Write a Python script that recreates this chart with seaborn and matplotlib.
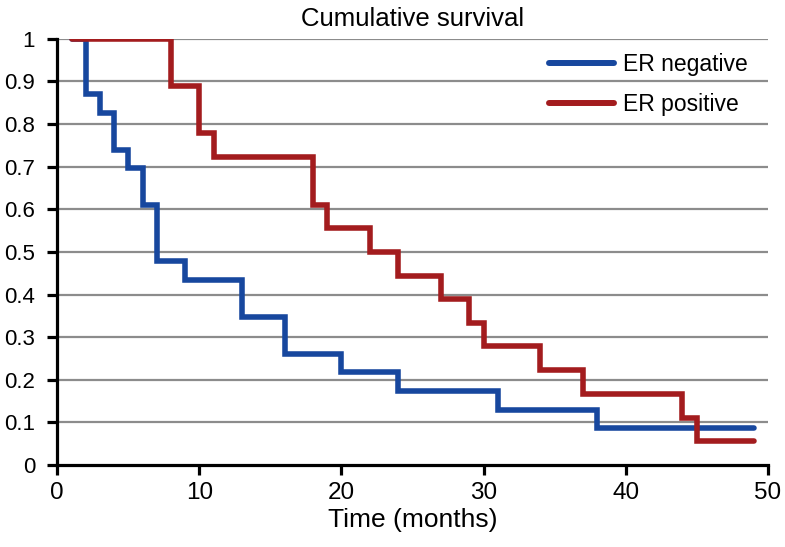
import pandas as pd
import matplotlib.pyplot as plt
import seaborn as sns

# Kaplan-Meier style survival data
neg_time = [1, 2, 3, 4, 5, 6, 7, 9, 13, 16, 20, 24, 31, 38, 49]
neg_surv = [1.0, 0.87, 0.826, 0.739, 0.696, 0.609, 0.478, 0.435, 0.348, 0.261, 0.217, 0.174, 0.13, 0.087, 0.087]

pos_time = [1, 8, 10, 11, 18, 19, 22, 24, 27, 29, 30, 34, 37, 44, 45, 49]
pos_surv = [1.0, 0.889, 0.778, 0.722, 0.611, 0.556, 0.5, 0.444, 0.389, 0.333, 0.278, 0.222, 0.167, 0.111, 0.056, 0.056]

groups = ['ER negative', 'ER positive']
colors = ['#17479e', '#a31c1e']

df = pd.concat([
    pd.DataFrame({'time': neg_time, 'surv': neg_surv, 'group': groups[0]}),
    pd.DataFrame({'time': pos_time, 'surv': pos_surv, 'group': groups[1]}),
])

sns.set_style('white')
plt.rcParams['font.family'] = ['Liberation Sans', 'DejaVu Sans']
plt.rcParams['text.color'] = 'black'
plt.rcParams['axes.labelcolor'] = 'black'
plt.rcParams['xtick.color'] = 'black'
plt.rcParams['ytick.color'] = 'black'

fig = plt.figure(figsize=(7.85, 5.47), dpi=100)
ax = fig.add_axes([0.073, 0.15, 0.905, 0.779])

# grid lines drawn at each 0.1 step
for yv in [i / 10 for i in range(1, 11)]:
    ax.axhline(yv, color='#8c8c8c', lw=1.6, zorder=1)

sns.lineplot(data=df, x='time', y='surv', hue='group', hue_order=groups,
             palette=colors, drawstyle='steps-post', estimator=None, sort=False,
             lw=4, solid_capstyle='round', solid_joinstyle='miter', ax=ax, zorder=3)

ax.set_xlim(0, 50)
ax.set_ylim(0, 1)
ax.set_xticks([0, 10, 20, 30, 40, 50])
ax.set_yticks([i / 10 for i in range(0, 11)])
ax.set_yticklabels(['0', '0.1', '0.2', '0.3', '0.4', '0.5', '0.6', '0.7', '0.8', '0.9', '1'])
ax.tick_params(axis='both', direction='out', length=7.5, width=2.3, color='black',
               labelcolor='black', left=True, bottom=True)
ax.tick_params(axis='y', labelsize=16, pad=8.5)
ax.tick_params(axis='x', labelsize=17.5, pad=5)

for side in ['top', 'right']:
    ax.spines[side].set_visible(False)
for side in ['left', 'bottom']:
    ax.spines[side].set_color('black')
    ax.spines[side].set_linewidth(2.3)

ax.set_title('Cumulative survival', fontsize=18.5, pad=9, color='black')
ax.set_xlabel('Time (months)', fontsize=19, labelpad=3, color='black')
ax.set_ylabel('')

leg = ax.legend(loc='upper left', bbox_to_anchor=(0.663, 1.014), frameon=False,
                fontsize=16.5, handlelength=2.83, handletextpad=0.4, labelspacing=0.7)
for line in leg.get_lines():
    line.set_linewidth(4.3)
    line.set_solid_capstyle('round')
for txt in leg.get_texts():
    txt.set_color('black')

fig.savefig('out.png', dpi=100)
